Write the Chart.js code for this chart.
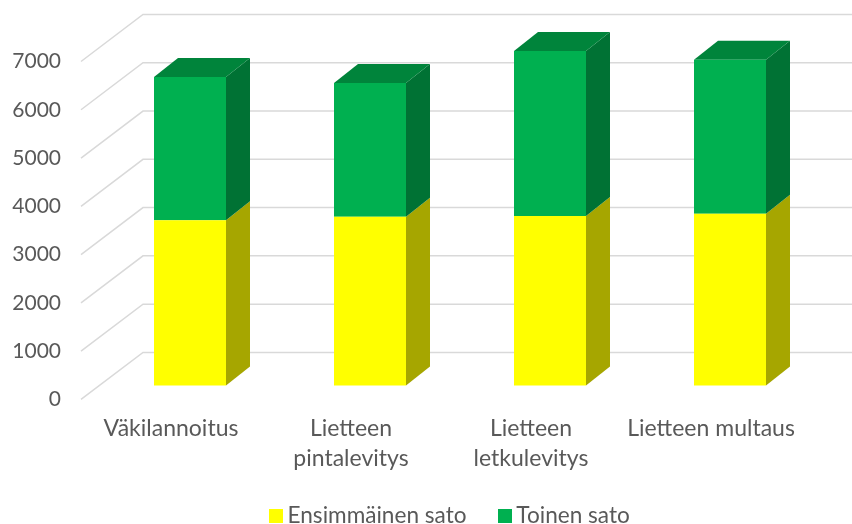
<!DOCTYPE html>
<html>
<head>
<meta charset="utf-8">
<style>
    html, body { margin: 0; padding: 0; background: #fff; overflow: hidden; }
    canvas { display: block; }
</style>
<script src="https://cdn.jsdelivr.net/npm/chart.js@4/dist/chart.umd.js"></script>
</head>
<body>
<canvas id="chart" width="852" height="524"></canvas>
<script>
const categories = ['Väkilannoitus', ['Lietteen', 'pintalevitys'], ['Lietteen', 'letkulevitys'], 'Lietteen multaus'];
const firstYield = [3420, 3495, 3510, 3555];
const secondYield = [2970, 2770, 3415, 3190];
const yTicks = [0, 1000, 2000, 3000, 4000, 5000, 6000, 7000];

// legend swatch, a canvas so the text can sit close to it
function swatch(color) {
    const c = document.createElement('canvas');
    c.width = 14;
    c.height = 14;
    const g = c.getContext('2d');
    g.fillStyle = color;
    g.fillRect(0, 0, 14, 14);
    return c;
}

const textColor = '#595959';
const gridColor = '#d9d9d9';

// fake 3D: back wall, side wall and the bar side / top faces
const box3d = {
    id: 'box3d',
    afterLayout(chart) {
        // the legend sits right of the plot centre in the original,
        // and overlaps the bottom of the tall x axis box
        chart.legend.left += 52;
        chart.legend.right += 52;
        chart.legend.top -= 12.5;
        chart.legend.bottom -= 12.5;
    },
    beforeDatasetsDraw(chart) {
        const {ctx, scales: {x, y}} = chart;

        ctx.save();
        ctx.strokeStyle = gridColor;
        ctx.lineWidth = 1.5;
        yTicks.forEach(v => {
            const py = y.getPixelForValue(v);
            ctx.beginPath();
            ctx.moveTo(x.left, py);
            ctx.lineTo(x.left + 62, py - 47);
            ctx.lineTo(x.right + 62, py - 47);
            ctx.stroke();
        });
        ctx.restore();

        // bars stand a bit behind the front plane
        ctx.save();
        ctx.translate(19, -14);

        const faces = [
            {side: '#a6a600'},
            {side: '#007234', top: '#00843b'}
        ];
        chart.data.datasets.forEach((_, i) => {
            chart.getDatasetMeta(i).data.forEach(b => {
                const r = b.x + b.width / 2;
                const l = b.x - b.width / 2;
                ctx.fillStyle = faces[i].side;
                ctx.beginPath();
                ctx.moveTo(r, b.y);
                ctx.lineTo(r + 24, b.y - 19);
                ctx.lineTo(r + 24, b.base - 19);
                ctx.lineTo(r, b.base);
                ctx.closePath();
                ctx.fill();
                if (faces[i].top) {
                    ctx.fillStyle = faces[i].top;
                    ctx.beginPath();
                    ctx.moveTo(l, b.y);
                    ctx.lineTo(l + 24, b.y - 19);
                    ctx.lineTo(r + 24, b.y - 19);
                    ctx.lineTo(r, b.y);
                    ctx.closePath();
                    ctx.fill();
                }
            });
        });
    },
    afterDatasetsDraw(chart) {
        chart.ctx.restore();
    }
};

new Chart(document.getElementById('chart').getContext('2d'), {
    type: 'bar',
    data: {
        labels: categories,
        datasets: [
            {
                label: 'Ensimmäinen sato',
                data: firstYield,
                backgroundColor: '#ffff00',
                pointStyle: swatch('#ffff00'),
                clip: false
            },
            {
                label: 'Toinen sato',
                data: secondYield,
                backgroundColor: '#00b050',
                pointStyle: swatch('#00b050'),
                clip: false
            }
        ]
    },
    options: {
        responsive: false,
        animation: false,
        categoryPercentage: 1,
        barPercentage: 0.4,
        layout: {
            autoPadding: false,
            padding: {left: 0, right: 51, top: 61.5, bottom: -25.5}
        },
        scales: {
            x: {
                stacked: true,
                grid: {display: false, drawTicks: false},
                border: {display: false},
                ticks: {
                    color: textColor,
                    font: {family: 'Lato', size: 23, lineHeight: 1.27},
                    padding: 15,
                    maxRotation: 0,
                    autoSkip: false
                },
                afterFit(axis) {
                    axis.height = 80;
                }
            },
            y: {
                stacked: true,
                min: 0,
                max: 7000,
                grid: {display: false, drawTicks: false},
                border: {display: false},
                afterBuildTicks(axis) {
                    axis.ticks = yTicks.map(value => ({value}));
                },
                ticks: {
                    color: textColor,
                    font: {family: 'Lato', size: 21},
                    padding: 20,
                    callback: v => String(v)
                },
                afterFit(axis) {
                    axis.width = 81;
                }
            }
        },
        plugins: {
            tooltip: {enabled: false},
            legend: {
                position: 'bottom',
                labels: {
                    color: textColor,
                    font: {family: 'Lato', size: 22.6, lineHeight: '15px'},
                    usePointStyle: true,
                    pointStyleWidth: 1,
                    boxHeight: 14,
                    padding: 37.5
                }
            }
        }
    },
    plugins: [box3d]
});
</script>
</body>
</html>
